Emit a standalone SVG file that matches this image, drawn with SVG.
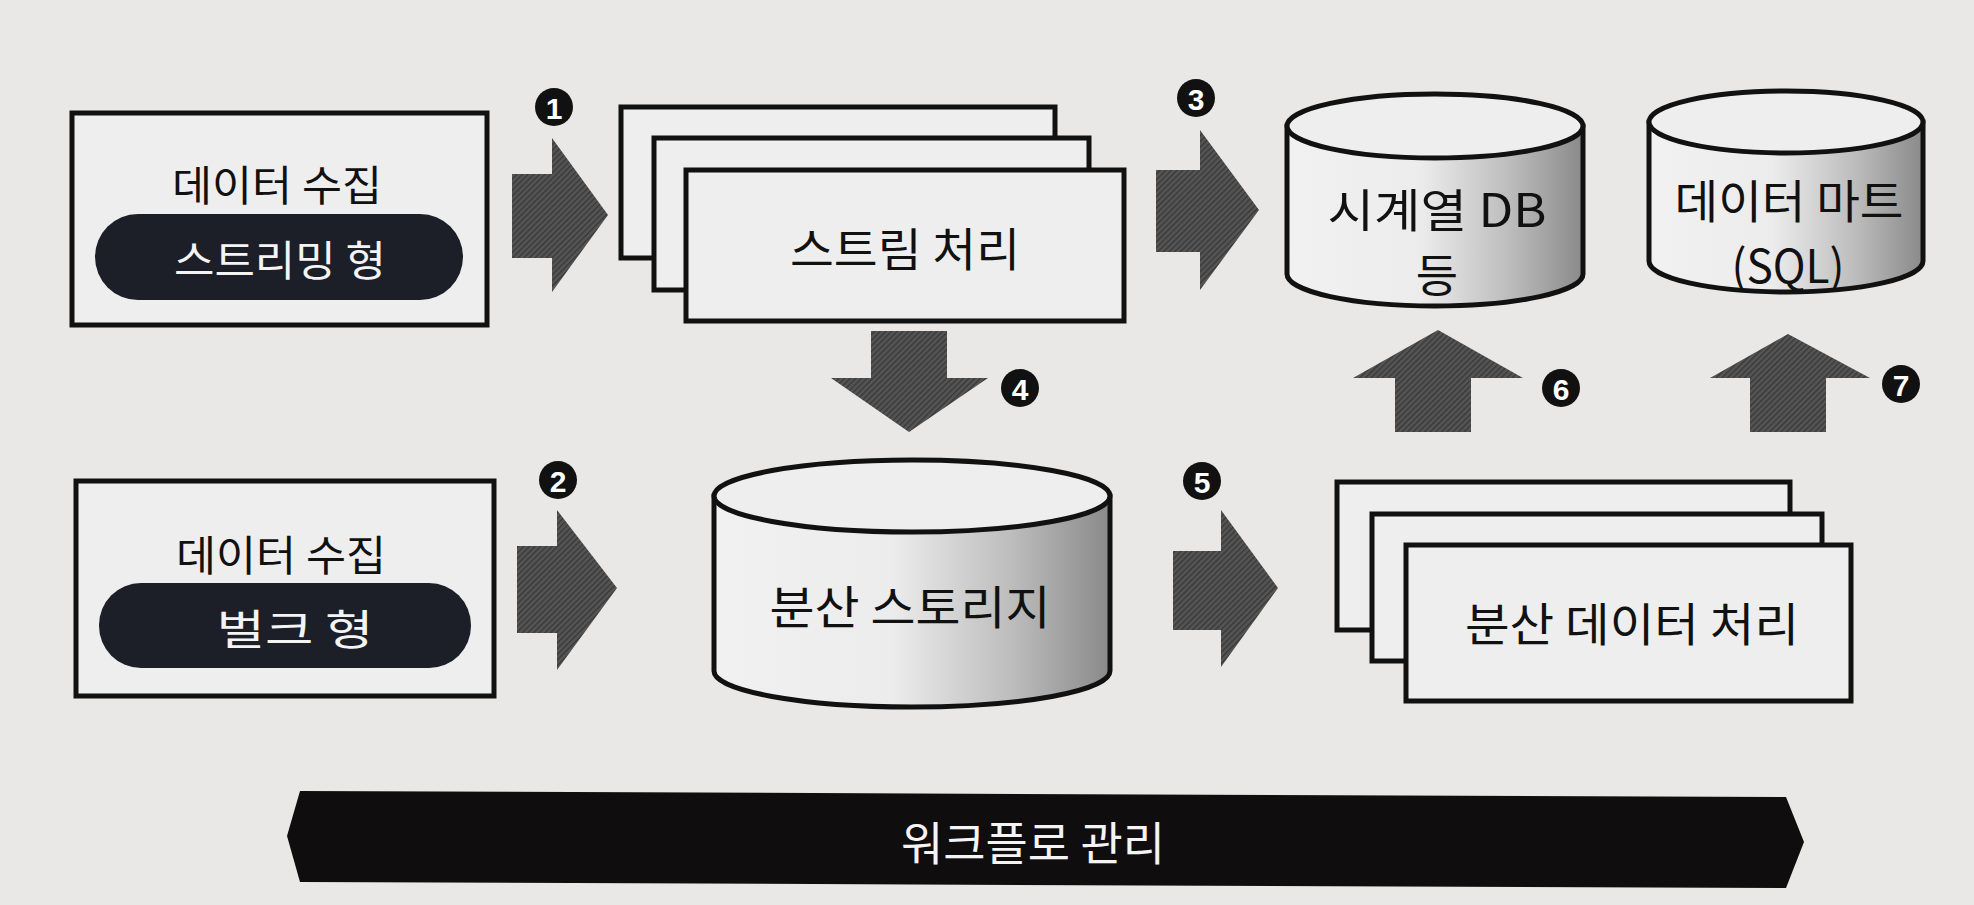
<svg xmlns="http://www.w3.org/2000/svg" width="1974" height="905" viewBox="0 0 1974 905">
<defs>
<pattern id="hatch" width="4" height="4" patternUnits="userSpaceOnUse" patternTransform="rotate(45)">
<rect width="4" height="4" fill="#555"/>
<rect width="1.4" height="4" fill="#383838"/>
</pattern>
<linearGradient id="cyl" x1="0" y1="0" x2="1" y2="0">
<stop offset="0" stop-color="#f1f1f1"/>
<stop offset="0.45" stop-color="#ececec"/>
<stop offset="0.75" stop-color="#bdbdbd"/>
<stop offset="1" stop-color="#8a8a8a"/>
</linearGradient>
<style>
.box{fill:#eeeeee;stroke:#111;stroke-width:5;stroke-linejoin:miter}
.cylb{fill:url(#cyl);stroke:#111;stroke-width:5}
.cylt{fill:#eeeeee;stroke:#111;stroke-width:5}
.pill{fill:#1c1e28}
.t{font-family:"Noto Sans CJK KR","Noto Sans",sans-serif;font-size:46px;fill:#111;text-anchor:middle;dominant-baseline:central}
.s{font-size:42px}
.tw{fill:#f4f4f4}
.arr{fill:url(#hatch)}
.num{fill:#111}
.nt{font-family:"Liberation Sans","Noto Sans",sans-serif;font-size:30px;font-weight:bold;fill:#fff;text-anchor:middle;dominant-baseline:central}
</style>
</defs>
<rect width="1974" height="905" fill="#e9e8e7"/>

<g id="collect-stream">
<rect class="box" x="72" y="113" width="415" height="212"/>
<text class="t s" x="277" y="182" textLength="210" lengthAdjust="spacingAndGlyphs">데이터 수집</text>
<rect class="pill" x="95" y="214" width="368" height="86" rx="43"/>
<text class="t s tw" x="280" y="257" textLength="212" lengthAdjust="spacingAndGlyphs">스트리밍 형</text>
</g>

<g id="collect-bulk">
<rect class="box" x="76" y="481" width="418" height="215"/>
<text class="t s" x="281" y="552" textLength="210" lengthAdjust="spacingAndGlyphs">데이터 수집</text>
<rect class="pill" x="99" y="583" width="372" height="85" rx="42"/>
<text class="t s tw" x="295" y="626" textLength="157" lengthAdjust="spacingAndGlyphs">벌크 형</text>
</g>

<g id="stream-processing">
<rect class="box" x="621" y="107" width="434" height="151"/>
<rect class="box" x="654" y="138" width="435" height="152"/>
<rect class="box" x="686" y="170" width="438" height="151"/>
<text class="t" x="905" y="246" textLength="230" lengthAdjust="spacingAndGlyphs">스트림 처리</text>
</g>

<g id="distributed-storage">
<path class="cylb" d="M714,496 L714,671 A198,36 0 0 0 1110,671 L1110,496 Z"/>
<ellipse class="cylt" cx="912" cy="496" rx="198" ry="36"/>
<text class="t" x="910" y="604" textLength="281" lengthAdjust="spacingAndGlyphs">분산 스토리지</text>
</g>

<g id="timeseries-db">
<path class="cylb" d="M1287,126 L1287,274 A148,32 0 0 0 1583,274 L1583,126 Z"/>
<ellipse class="cylt" cx="1435" cy="126" rx="148" ry="32"/>
<text class="t" x="1437" y="207" font-size="43" textLength="219" lengthAdjust="spacingAndGlyphs">시계열 DB</text>
<text class="t" x="1437" y="272" font-size="43">등</text>
</g>

<g id="data-mart">
<path class="cylb" d="M1649,122 L1649,261 A137,31 0 0 0 1923,261 L1923,122 Z"/>
<ellipse class="cylt" cx="1786" cy="122" rx="137" ry="31"/>
<text class="t" x="1789" y="198" font-size="44" textLength="229" lengthAdjust="spacingAndGlyphs">데이터 마트</text>
<text class="t" x="1788" y="263" font-size="44" textLength="113" lengthAdjust="spacingAndGlyphs">(SQL)</text>
</g>

<g id="distributed-processing">
<rect class="box" x="1337" y="482" width="453" height="148"/>
<rect class="box" x="1372" y="514" width="450" height="147"/>
<rect class="box" x="1406" y="545" width="445" height="156"/>
<text class="t" x="1632" y="621" textLength="334" lengthAdjust="spacingAndGlyphs">분산 데이터 처리</text>
</g>

<g id="workflow">
<polygon fill="#0f0d0e" points="300,791 1786,797 1804,842 1786,888 300,882 287,836"/>
<text class="t tw" x="1033" y="840" textLength="264" lengthAdjust="spacingAndGlyphs">워크플로 관리</text>
</g>

<g id="connectors">
<polygon class="arr" points="512,174 552,174 552,138 608,215 552,292 552,258 512,258"/>
<circle class="num" cx="554" cy="107" r="19"/><text class="nt" x="554" y="108">1</text>

<polygon class="arr" points="517,546 557,546 557,510 617,588 557,670 557,633 517,633"/>
<circle class="num" cx="558" cy="480" r="19"/><text class="nt" x="558" y="481">2</text>

<polygon class="arr" points="1156,170 1200,170 1200,130 1259,210 1200,290 1200,252 1156,252"/>
<circle class="num" cx="1196" cy="98" r="19"/><text class="nt" x="1196" y="99">3</text>

<polygon class="arr" points="871,331 947,331 947,378 988,378 909,432 831,378 871,378"/>
<circle class="num" cx="1020" cy="388" r="19"/><text class="nt" x="1020" y="389">4</text>

<polygon class="arr" points="1173,551 1221,551 1221,510 1278,588 1221,667 1221,630 1173,630"/>
<circle class="num" cx="1202" cy="481" r="19"/><text class="nt" x="1202" y="482">5</text>

<polygon class="arr" points="1395,432 1471,432 1471,378 1523,378 1438,330 1353,378 1395,378"/>
<circle class="num" cx="1561" cy="388" r="19"/><text class="nt" x="1561" y="389">6</text>

<polygon class="arr" points="1750,432 1826,432 1826,378 1870,378 1788,334 1710,378 1750,378"/>
<circle class="num" cx="1901" cy="384" r="19"/><text class="nt" x="1901" y="385">7</text>
</g>
</svg>
